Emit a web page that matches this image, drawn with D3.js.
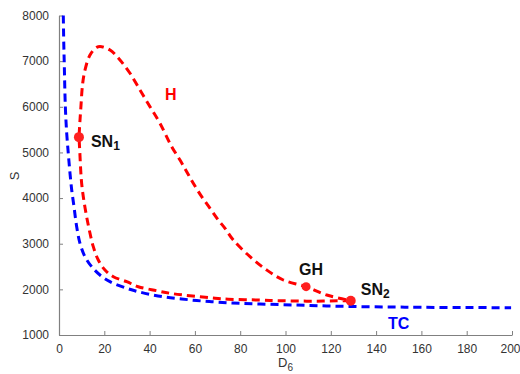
<!DOCTYPE html>
<html>
<head>
<meta charset="utf-8">
<script src="https://cdn.jsdelivr.net/npm/d3@7"></script>
<style>
  body { margin: 0; background: #fff; }
  text { font-family: "Liberation Sans", Arial, sans-serif; }
</style>
</head>
<body>
<div id="graph"></div>
<script>
// chart data
var xTicks = [0, 20, 40, 60, 80, 100, 120, 140, 160, 180, 200];
var yTicks = [1000, 2000, 3000, 4000, 5000, 6000, 7000, 8000];

// TC curve (blue), D6 vs S
var tcD = [1.9, 2.1, 2.3, 2.8, 3.4, 4.1, 4.86, 5.61, 6.62, 7.81, 9.27, 11.48, 14.44, 18.1, 22.5, 29.9, 35, 41.6, 47.5, 54.2, 60.8, 67.4, 74, 79.9, 88.7, 103.4, 118.2, 132.9, 147.6, 160, 180, 199.6];
var tcS = [8000, 7400, 7000, 6000, 5420, 4980, 4543, 4177, 3811, 3373, 3009, 2715, 2496, 2315, 2168, 2023, 1949, 1876, 1826, 1789, 1755, 1730, 1708, 1695, 1679, 1657, 1637, 1622, 1613, 1607, 1602, 1598];

// H curve (red) : from SN2 along the lower branch, round SN1, over the top, back to SN2
var hD = [128.8, 122.6, 113.8, 104.9, 96.1, 88.7, 74.7, 68.9, 62.3, 54.9, 49, 43.1, 35, 29.9, 24, 20.3, 17.35, 15.14, 13.38, 11.92, 10.73, 10, 9.58, 9.2, 8.9, 9.2, 9.58, 10.46, 11.48, 13.69, 16.64, 18.85, 22.52, 26.93, 31.35, 35.76, 40.18, 44.59, 49.76, 53.42, 56.38, 59.29, 63, 66.67, 70.33, 73.29, 76.95, 84.33, 91.7, 99.03, 109.05, 118.2, 128.8];
var hS = [1751, 1748, 1742, 1744, 1753, 1765, 1785, 1804, 1839, 1876, 1914, 1971, 2058, 2168, 2277, 2424, 2643, 2935, 3300, 3666, 4030, 4324, 4615, 5000, 5335, 5650, 5930, 6515, 6806, 7135, 7303, 7316, 7244, 7025, 6734, 6368, 6002, 5638, 5126, 4834, 4578, 4324, 4030, 3776, 3520, 3338, 3081, 2716, 2424, 2205, 2058, 1876, 1751];

// special points
var ptNames = ["SN1", "GH", "SN2"];
var ptD = [8.8, 109.1, 128.8];
var ptS = [5335, 2059, 1752];

var width = 520, height = 374;
var mLeft = 59, mRight = 512, mTop = 15.5, mBottom = 335;

var svg = d3.select("#graph").append("svg")
    .attr("width", width)
    .attr("height", height);

var x = d3.scaleLinear().domain([0, 200]).range([mLeft, mRight]);
var y = d3.scaleLinear().domain([1000, 8000]).range([mBottom, mTop]);

// axes, MATLAB style: ticks inside
var xAxis = svg.append("g")
    .attr("transform", "translate(0," + mBottom + ")")
    .call(d3.axisBottom(x).tickValues(xTicks).tickSizeInner(-4).tickSizeOuter(0).tickPadding(9));
var yAxis = svg.append("g")
    .attr("transform", "translate(" + mLeft + ",0)")
    .call(d3.axisLeft(y).tickValues(yTicks).tickFormat(d3.format("d")).tickSizeInner(-4).tickSizeOuter(0).tickPadding(10));

[xAxis, yAxis].forEach(function(a){
  a.select(".domain").attr("stroke", "#808080").attr("stroke-width", 1.2);
  a.selectAll(".tick line").attr("stroke", "#808080");
  a.selectAll(".tick text").attr("fill", "#333").style("font-size", "12px")
    .style("font-family", "Liberation Sans, Arial, sans-serif");
});
// last x label sits at the window edge
xAxis.selectAll(".tick text").filter(function(d){ return d == 200; }).attr("dx", -2);

// axis labels
svg.append("text")
    .attr("transform", "translate(19,176) rotate(-90)")
    .attr("text-anchor", "middle")
    .attr("fill", "#333")
    .style("font-size", "13px")
    .text("S");

var xl = svg.append("text")
    .attr("x", 278)
    .attr("y", 367)
    .attr("fill", "#333")
    .style("font-size", "13px")
    .text("D");
xl.append("tspan").attr("dy", 4).style("font-size", "10px").text("6");

var line = d3.line()
    .x(function(d){ return x(d[0]); })
    .y(function(d){ return y(d[1]); })
    .curve(d3.curveCatmullRom);

var tc = tcD.map(function(d, i){ return [d, tcS[i]]; });
var hc = hD.map(function(d, i){ return [d, hS[i]]; });

svg.append("path")
    .attr("d", line(tc))
    .attr("fill", "none")
    .attr("stroke", "#0000ff")
    .attr("stroke-width", 3)
    .attr("stroke-dasharray", "8,5");

svg.append("path")
    .attr("d", line(hc))
    .attr("fill", "none")
    .attr("stroke", "#ff0000")
    .attr("stroke-width", 3)
    .attr("stroke-dasharray", "8,5");

// points
svg.selectAll("circle.pt")
    .data(ptNames)
    .enter()
    .append("circle")
    .attr("class", "pt")
    .attr("cx", function(d, i){ return x(ptD[i]); })
    .attr("cy", function(d, i){ return y(ptS[i]); })
    .attr("r", function(d){ return d == "GH" ? 4.5 : 5; })
    .attr("fill", "#ff2020");

// labels
function label(tx, ty, main, sub, color) {
  var t = svg.append("text")
      .attr("x", tx)
      .attr("y", ty)
      .attr("fill", color)
      .style("font-size", "16px")
      .style("font-weight", "bold")
      .text(main);
  if (sub) t.append("tspan").attr("dy", 3).style("font-size", "12px").text(sub);
}
label(x(ptD[0]) + 12, 146.5, "SN", "1", "#111");
label(x(ptD[1]) - 7, 275, "GH", null, "#111");
label(x(ptD[2]) + 10, 294.5, "SN", "2", "#111");
label(165, 100, "H", null, "#ff0000");
label(388, 328.5, "TC", null, "#0000ff");
</script>
</body>
</html>
